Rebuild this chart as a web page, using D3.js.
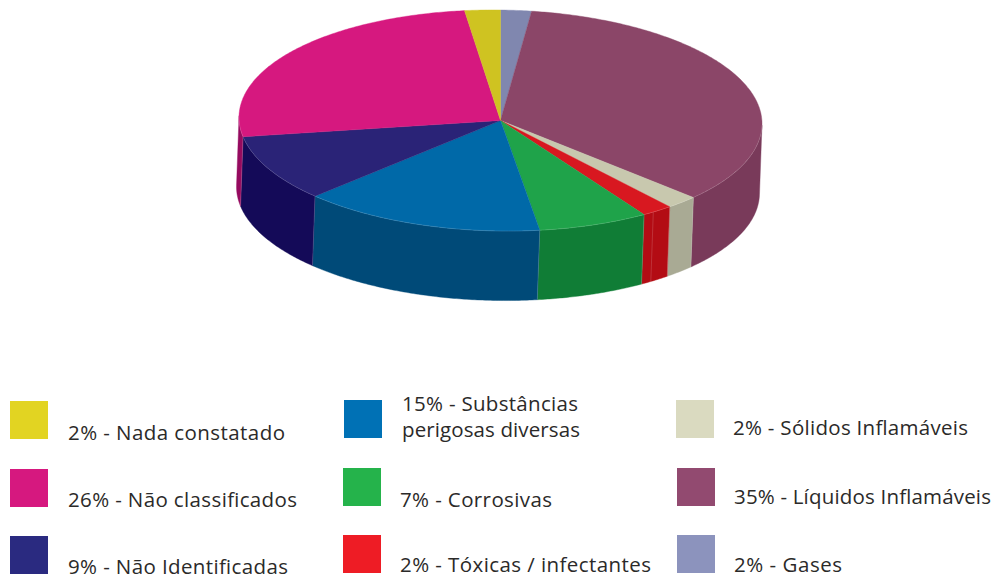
<!DOCTYPE html>
<html lang="pt">
<head>
<meta charset="utf-8">
<script src="https://cdn.jsdelivr.net/npm/d3@7"></script>
<style>
html,body{margin:0;padding:0;background:#fff;overflow:hidden}
svg{display:block}
text{font-family:"Open Sans",sans-serif;font-size:20.5px;fill:#2b2a29}
</style>
</head>
<body>
<svg id="c" width="996" height="581"></svg>
<script>
// Slices clockwise from twelve o'clock
const categories = ["Gases","Líquidos Inflamáveis","Sólidos Inflamáveis","Tóxicas / infectantes","Corrosivas","Substâncias perigosas diversas","Não Identificadas","Não classificados","Nada constatado"];
const sliceValues = [1.9,34.9,2.0,1.95,6.85,14.95,9.65,25.6,2.2];
const topColors  = ["#8087af","#8b4668","#c8c8ae","#d81820","#1fa34a","#0069a8","#2a2377","#d6187f","#cfc321"];
const wallColors = ["#6b7096","#793a5a","#a9aa94","#b30c14","#107d36","#004a78","#140a58","#950a5f","#a89e18"];

// Legend content
const legendLines = [
  ["2% - Nada constatado"],["26% - Não classificados"],["9% - Não Identificadas"],
  ["15% - Substâncias","perigosas diversas"],["7% - Corrosivas"],["2% - Tóxicas / infectantes"],
  ["2% - Sólidos Inflamáveis"],["35% - Líquidos Inflamáveis"],["2% - Gases"]];
const legendColors = ["#e2d422","#d6187f","#2a2a80","#0071b5","#25b34b","#ee1c25","#dadac0","#924a70","#8c93bd"];

// Layout (separate from the data)
const swatchX = [10,10,10,344,343,343,676,677,677];
const swatchY = [401,469,536,400,468,535,400,468,535];
const textX   = [68,68,68,402,400,400,733,734,734];
const textY   = [[440],[507],[574],[411,437],[507],[572],[435],[504],[572]];
const textW   = [[217],[229],[220],[176,178],[152],[251],[235],[257],[108]];
const swatchSize = 38;
const top_ = {cx:500.5, cy:120.5, rx:261.5, ry:110.5};
const bottom = {cx:498, cy:190, rx:261.5, ry:110.5};
const tilt = 0.012; // the drawing is very slightly rotated: right side lower than left

const svg = d3.select("#c");
const pie = d3.pie().sort(null).value(d=>d).startAngle(0).endAngle(2*Math.PI);
const arcs = pie(sliceValues);
const proj = (e,a)=>{
  const dx=e.rx*Math.sin(a);
  return [e.cx+dx, e.cy-e.ry*Math.cos(a)+tilt*dx];
};
const line = d3.line();
const samples = (a0,a1)=>{
  const n=Math.max(2,Math.ceil((a1-a0)/0.01));
  return d3.range(n+1).map(i=>a0+(a1-a0)*i/n);
};
// the front of the drum, between its two silhouette tangents
const frontStart = Math.PI/2+0.015, frontEnd = 3*Math.PI/2+0.015;

// outer walls
const walls = svg.append("g");
arcs.forEach((d,i)=>{
  const a0=Math.max(d.startAngle,frontStart), a1=Math.min(d.endAngle,frontEnd);
  if(a1<=a0) return;
  const s = samples(a0,a1);
  const pts = s.map(a=>proj(top_,a)).concat(s.slice().reverse().map(a=>proj(bottom,a)));
  walls.append("path").attr("d",line(pts)+"Z").attr("fill",wallColors[i]).attr("stroke",wallColors[i]).attr("stroke-width",0.4);
});
// faint seams between wall panels
const seams = svg.append("g");
const seamAngles = arcs.map(d=>d.endAngle).filter(a=>a>frontStart&&a<frontEnd);
seamAngles.push(arcs[3].startAngle+(arcs[3].endAngle-arcs[3].startAngle)*0.65);
seamAngles.forEach(a=>{
  seams.append("path").attr("d",line([proj(top_,a),proj(bottom,a)]))
    .attr("stroke","#ffffff").attr("stroke-opacity",0.22).attr("stroke-width",0.7).attr("fill","none");
});
// top faces
const faces = svg.append("g");
arcs.forEach((d,i)=>{
  const pts=[[top_.cx,top_.cy]].concat(samples(d.startAngle,d.endAngle).map(a=>proj(top_,a)));
  faces.append("path").attr("d",line(pts)+"Z").attr("fill",topColors[i]).attr("stroke",topColors[i]).attr("stroke-width",0.4);
});
// faint highlight along the front rim
svg.append("path").attr("d",line(samples(frontStart,frontEnd).map(a=>proj(top_,a))))
  .attr("fill","none").attr("stroke","#ffffff").attr("stroke-opacity",0.18).attr("stroke-width",0.7);

// legend
const legend = svg.append("g");
legendLines.forEach((lines,i)=>{
  legend.append("rect").attr("x",swatchX[i]).attr("y",swatchY[i]).attr("width",swatchSize).attr("height",swatchSize).attr("fill",legendColors[i]);
  lines.forEach((t,j)=>{
    legend.append("text").attr("x",textX[i]).attr("y",textY[i][j])
      .attr("textLength",textW[i][j]).attr("lengthAdjust","spacing").text(t);
  });
});
</script>
</body>
</html>
